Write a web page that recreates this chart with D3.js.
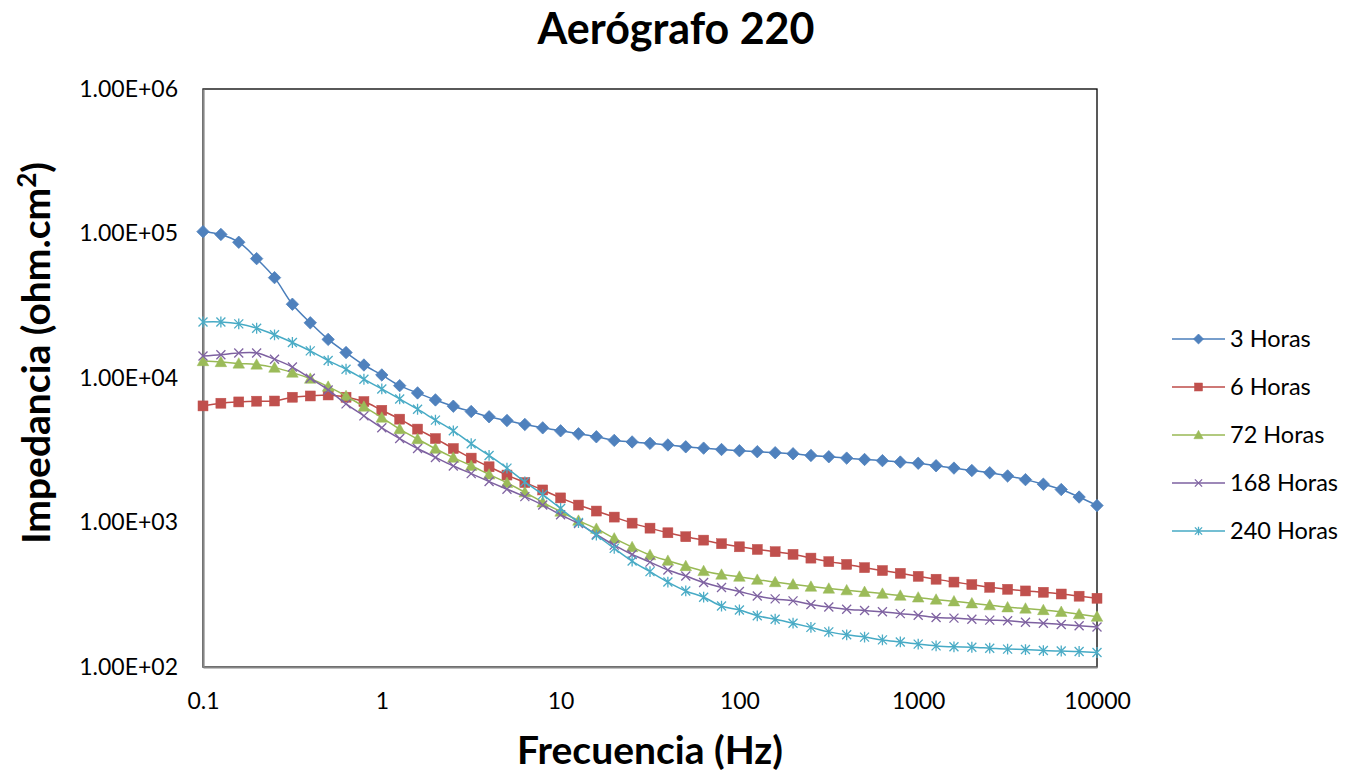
<!DOCTYPE html>
<html><head><meta charset="utf-8">
<script src="https://cdn.jsdelivr.net/npm/d3@7"></script>
<style>
html,body{margin:0;padding:0;background:#fff;}
svg text{font-family:Lato,"Open Sans",sans-serif;fill:#000;}
</style></head>
<body><svg id="c" width="1356" height="773"></svg>
<script>
// Frequencies: 10 points per decade, 0.1 .. 10000 Hz
const freqExponents = d3.range(0, 51).map(i => -1 + i / 10);
const seriesNames = ["3 Horas", "6 Horas", "72 Horas", "168 Horas", "240 Horas"];
const xTickLabels = ["0.1", "1", "10", "100", "1000", "10000"];
const yTickLabels = ["1.00E+02", "1.00E+03", "1.00E+04", "1.00E+05", "1.00E+06"];

const h3 = [103000, 98500, 87000, 67000, 49500, 32400, 24100, 18500, 15000, 12300,
  10500, 8850, 7880, 7050, 6380, 5860, 5390, 5080, 4770, 4520,
  4310, 4110, 3920, 3700, 3610, 3530, 3440, 3340, 3270, 3200,
  3140, 3090, 3040, 2990, 2910, 2850, 2790, 2730, 2680, 2620,
  2570, 2470, 2380, 2290, 2210, 2100, 1980, 1840, 1690, 1500, 1310];
const h6 = [6410, 6690, 6830, 6910, 6930, 7360, 7510, 7630, 7360, 6870,
  5980, 5190, 4430, 3810, 3250, 2790, 2430, 2130, 1890, 1680,
  1480, 1320, 1200, 1090, 990, 914, 849, 797, 755, 713,
  679, 651, 628, 602, 567, 536, 513, 487, 465, 445,
  424, 405, 387, 372, 356, 345, 336, 329, 320, 309, 299];
const h72 = [13100, 12900, 12600, 12400, 11800, 10900, 9900, 8710, 7510, 6340,
  5320, 4430, 3780, 3240, 2810, 2470, 2150, 1880, 1620, 1380,
  1190, 1030, 906, 776, 676, 595, 544, 500, 462, 436,
  422, 402, 387, 373, 360, 349, 340, 331, 322, 312,
  303, 293, 285, 276, 268, 259, 254, 248, 241, 232, 223];
const h168 = [14200, 14500, 14900, 14900, 13500, 11900, 9960, 8270, 6620, 5470,
  4520, 3810, 3250, 2820, 2460, 2180, 1920, 1700, 1510, 1320,
  1130, 984, 826, 697, 601, 532, 469, 426, 384, 355,
  333, 310, 296, 287, 271, 260, 251, 246, 241, 234,
  228, 220, 218, 214, 211, 209, 204, 201, 197, 193, 189];
const h240 = [24400, 24400, 23700, 22100, 19900, 17600, 15400, 13200, 11500, 9800,
  8400, 7160, 6080, 5110, 4310, 3510, 2910, 2380, 1910, 1560,
  1250, 1000, 817, 662, 541, 457, 387, 336, 304, 264,
  248, 226, 214, 201, 188, 175, 167, 161, 154, 149,
  144, 140, 138, 137, 135, 133, 132, 130, 129, 128, 126];

const seriesValues = [h3, h6, h72, h168, h240];
const colors = ["#4A7EBB", "#BE4B48", "#98B954", "#7D60A0", "#46AAC5"];
const markerFill = ["#4F81BD", "#C0504D", "#9BBB59", "#8064A2", "#4BACC6"];
const markerTypes = ["diamond", "square", "triangle", "x", "star"];

const svg = d3.select("#c");
const L = 203, R = 1097, T = 89, B = 667;
const x = d3.scaleLog().domain([0.1, 10000]).range([L, R]);
const y = d3.scaleLog().domain([100, 1e6]).range([B, T]);

// frame
svg.append("rect").attr("x", L).attr("y", T).attr("width", R - L).attr("height", B - T)
  .attr("fill", "none").attr("stroke", "#000").attr("stroke-width", 1.3);

// axes
const xAxis = d3.axisBottom(x).tickValues([0.1, 1, 10, 100, 1000, 10000])
  .tickFormat((d, i) => xTickLabels[i]).tickSize(0).tickPadding(26);
const gx = svg.append("g").attr("transform", `translate(0,${B})`).call(xAxis);
gx.select(".domain").attr("stroke", "#868686").attr("stroke-width", 2.2);
gx.selectAll("text").style("font-size", "23px");

const yAxis = d3.axisLeft(y).tickValues([100, 1000, 10000, 100000, 1e6])
  .tickFormat((d, i) => yTickLabels[i]).tickSize(0).tickPadding(25);
const gy = svg.append("g").attr("transform", `translate(${L},0)`).call(yAxis);
gy.select(".domain").attr("stroke", "#868686").attr("stroke-width", 2.2);
gy.selectAll("text").style("font-size", "23px");

// marker drawing
function marker(g, type, cx, cy, i, s) {
  const c = markerFill[i];
  if (type === "diamond") {
    const r = s * 0.62;
    g.append("path").attr("d", `M${cx},${cy - r}L${cx + r},${cy}L${cx},${cy + r}L${cx - r},${cy}Z`)
      .attr("fill", c).attr("stroke", c).attr("stroke-width", 0.8);
  } else if (type === "square") {
    const r = s * 0.5;
    g.append("rect").attr("x", cx - r).attr("y", cy - r).attr("width", 2 * r).attr("height", 2 * r)
      .attr("fill", c).attr("stroke", c).attr("stroke-width", 0.5);
  } else if (type === "triangle") {
    const r = s * 0.58;
    g.append("path").attr("d", `M${cx},${cy - r}L${cx + r},${cy + r * 0.8}L${cx - r},${cy + r * 0.8}Z`)
      .attr("fill", c).attr("stroke", c).attr("stroke-width", 0.5);
  } else if (type === "x") {
    const r = s * 0.45;
    g.append("path").attr("d", `M${cx - r},${cy - r}L${cx + r},${cy + r}M${cx - r},${cy + r}L${cx + r},${cy - r}`)
      .attr("stroke", c).attr("stroke-width", 1.3).attr("fill", "none");
  } else if (type === "star") {
    const r = s * 0.45;
    g.append("path").attr("d", `M${cx - r},${cy - r}L${cx + r},${cy + r}M${cx - r},${cy + r}L${cx + r},${cy - r}M${cx},${cy - r * 1.2}L${cx},${cy + r * 1.2}`)
      .attr("stroke", c).attr("stroke-width", 1.3).attr("fill", "none");
  }
}

const line = d3.line().curve(d3.curveCatmullRom.alpha(0.5))
  .x(d => x(d[0])).y(d => y(d[1]));

seriesValues.forEach((vals, i) => {
  const pts = vals.map((v, k) => [Math.pow(10, freqExponents[k]), v]);
  const g = svg.append("g");
  g.append("path").attr("d", line(pts)).attr("fill", "none")
    .attr("stroke", colors[i]).attr("stroke-width", 1.5);
  pts.forEach(p => marker(g, markerTypes[i], x(p[0]), y(p[1]), i, 10));
});

// title & axis titles
svg.append("text").attr("x", 676).attr("y", 44).attr("text-anchor", "middle")
  .style("font-size", "43px").style("font-weight", "bold").text("Aerógrafo 220");
svg.append("text").attr("x", 650).attr("y", 764).attr("text-anchor", "middle")
  .style("font-size", "39px").style("font-weight", "bold").text("Frecuencia (Hz)");
const yt = svg.append("text").attr("transform", "translate(50,353) rotate(-90)")
  .attr("text-anchor", "middle").style("font-size", "39px").style("font-weight", "bold");
yt.append("tspan").text("Impedancia (ohm.cm");
yt.append("tspan").attr("dy", -14).style("font-size", "26px").text("2");
yt.append("tspan").attr("dy", 14).text(")");

// legend
seriesNames.forEach((name, i) => {
  const ly = 339 + i * 48;
  const g = svg.append("g");
  g.append("line").attr("x1", 1172).attr("x2", 1225).attr("y1", ly).attr("y2", ly)
    .attr("stroke", colors[i]).attr("stroke-width", 1.5);
  marker(g, markerTypes[i], 1198.5, ly, i, 8);
  g.append("text").attr("x", 1230).attr("y", ly + 8).style("font-size", "23.5px").text(name);
});
</script></body></html>
